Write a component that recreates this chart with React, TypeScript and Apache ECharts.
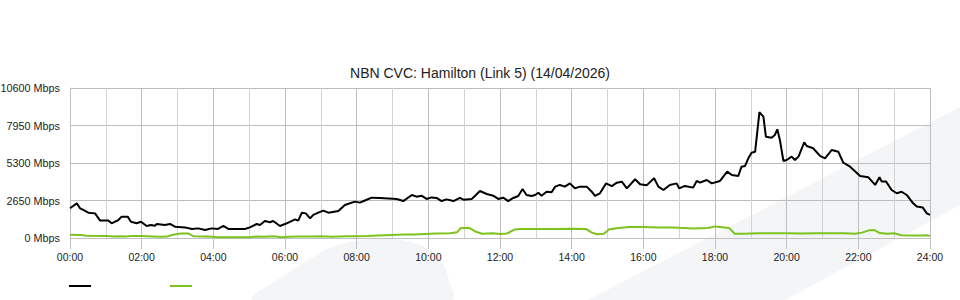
import React, { useEffect, useRef } from "react";
import * as echarts from "echarts";

const titleText = "NBN CVC: Hamilton (Link 5) (14/04/2026)";
const seriesNames = ["Download", "Upload"];
const yMax = 10600;
const yStep = 2650;
const xTickHours = [0, 2, 4, 6, 8, 10, 12, 14, 16, 18, 20, 22, 24];

const dlHours = [
  0.0, 0.19, 0.28, 0.37, 0.51, 0.7, 0.84, 1.07, 1.16, 1.35, 1.44, 1.61, 1.7, 1.86, 1.98, 2.14, 2.26, 2.37,
  2.42, 2.65, 2.79, 2.93, 3.21, 3.4, 3.58, 3.77, 3.95, 4.13, 4.28, 4.42, 4.88, 5.02, 5.21, 5.3, 5.44, 5.58,
  5.67, 5.86, 6.05, 6.28, 6.37, 6.47, 6.58, 6.7, 6.79, 6.93, 7.07, 7.21, 7.49, 7.67, 7.95, 8.09, 8.23, 8.42,
  8.65, 9.12, 9.3, 9.54, 9.67, 9.81, 9.95, 10.09, 10.23, 10.37, 10.51, 10.7, 10.88, 10.98, 11.21, 11.3, 11.44,
  11.63, 11.81, 11.95, 12.09, 12.23, 12.37, 12.51, 12.63, 12.74, 12.88, 12.98, 13.07, 13.16, 13.3, 13.44,
  13.54, 13.67, 13.81, 13.95, 14.09, 14.23, 14.42, 14.56, 14.65, 14.79, 14.96, 15.12, 15.26, 15.4, 15.54,
  15.77, 15.91, 16.09, 16.3, 16.42, 16.56, 16.74, 16.93, 17.0, 17.16, 17.39, 17.49, 17.58, 17.77, 17.91,
  18.14, 18.34, 18.47, 18.65, 18.74, 18.84, 18.93, 19.02, 19.12, 19.24, 19.35, 19.42, 19.58, 19.67, 19.74,
  19.81, 19.91, 20.0, 20.14, 20.23, 20.33, 20.49, 20.56, 20.74, 20.93, 21.07, 21.26, 21.44, 21.58, 21.77,
  22.05, 22.28, 22.47, 22.59, 22.65, 22.77, 22.93, 23.07, 23.21, 23.35, 23.53, 23.63, 23.8, 23.91, 24.0,
];
const dlMbps = [
  2100, 2450, 2100, 1980, 1790, 1740, 1230, 1230, 1040, 1270, 1510, 1510, 1150, 1040, 1150, 850, 920, 870,
  990, 920, 990, 800, 750, 640, 680, 570, 680, 640, 850, 640, 640, 750, 990, 920, 1200, 1110,
  1200, 850, 1040, 1320, 1230, 1790, 1740, 1390, 1630, 1790, 1930, 1790, 1910, 2330, 2570, 2500, 2650, 2850,
  2830, 2760, 2610, 3040, 2920, 2990, 2760, 2870, 2830, 2610, 2730, 2610, 2830, 2710, 2760, 2970, 3320,
  3110, 2990, 2760, 2850, 2610, 2830, 2970, 3460, 3040, 2970, 3040, 3200, 2990, 3270, 3230,
  3630, 3750, 3630, 3860, 3510, 3630, 3630, 3270, 2970, 3160, 3860, 3670, 3910, 3980, 3510,
  4150, 3800, 3720, 4220, 3630, 3390, 3750, 3860, 3510, 3680, 3560, 4030, 3910, 4100, 3860,
  4030, 4690, 4450, 4380, 5040, 5090, 5630, 6030, 6100, 8900, 8570, 7160, 7090, 7280, 7680,
  6930, 5440, 5510, 5750, 5510, 5750, 6760, 6500, 6340, 5800, 5630, 6220, 6100, 5320, 5040,
  4380, 4290, 3750, 4290, 4000, 4000, 3390, 3160, 3270, 3040, 2450, 2220, 2150, 1740, 1630,
];

const ulHours = [
  0.0, 0.3, 0.45, 1.0, 1.2, 1.4, 1.55, 1.75, 2.0, 2.3, 2.55, 2.7, 2.9, 3.1, 3.3, 3.45, 3.8, 4.0, 4.1, 4.5,
  5.0, 5.2, 5.4, 5.7, 5.9, 6.1, 6.4, 6.8, 7.0, 7.3, 7.7, 8.0, 8.3, 8.6, 9.0, 9.3, 9.6, 9.9, 10.2, 10.6,
  10.8, 10.9, 11.15, 11.35, 11.5, 11.8, 12.0, 12.2, 12.4, 12.6, 13.0, 13.5, 14.0, 14.4, 14.55, 14.7, 14.9,
  15.05, 15.3, 15.6, 16.0, 16.4, 16.8, 17.0, 17.4, 17.8, 18.0, 18.2, 18.4, 18.55, 18.8, 19.2, 19.6, 20.0,
  20.4, 20.8, 21.2, 21.6, 21.9, 22.1, 22.3, 22.45, 22.6, 22.8, 23.0, 23.2, 23.5, 23.8, 23.9, 24.0,
];
const ulMbps = [
  230, 220, 160, 150, 100, 130, 100, 150, 140, 110, 80, 100, 250, 320, 320, 120, 110, 90, 60, 60,
  60, 110, 90, 130, 60, 90, 100, 100, 120, 90, 120, 130, 150, 180, 220, 240, 250, 290, 320, 330,
  400, 700, 700, 420, 300, 330, 290, 320, 600, 640, 630, 640, 650, 640, 400, 270, 300,
  620, 700, 780, 780, 740, 750, 720, 680, 710, 820, 760, 700, 300, 300, 340, 330, 330,
  310, 330, 330, 330, 300, 380, 540, 560, 350, 300, 330, 200, 170, 180, 200, 150,
];

const zip = (xs: number[], ys: number[]) => xs.map((x, i) => [x, ys[i]]);

export default function App() {
  const ref = useRef<HTMLDivElement>(null);
  useEffect(() => {
    if (!ref.current) return;
    const chart = echarts.init(ref.current, undefined, { renderer: "svg" });
    const font = "'Liberation Sans', Arial, Helvetica, sans-serif";
    chart.setOption({
      animation: false,
      backgroundColor: "#ffffff",
      textStyle: { fontFamily: font },
      title: {
        text: titleText,
        left: "center",
        top: 61,
        textStyle: { fontSize: 14, fontWeight: "normal", color: "#222", fontFamily: font },
      },
      graphic: [
        {
          type: "polygon",
          z: -10,
          silent: true,
          shape: { points: [[960, 107], [960, 205], [785, 300], [588, 300]] },
          style: { fill: "#f4f5f7" },
        },
        {
          type: "polygon",
          z: -10,
          silent: true,
          shape: {
            smooth: 0.3,
            points: [
              [253, 300], [290, 272], [330, 248], [362, 240], [395, 239], [425, 247], [442, 262], [449, 280], [452, 300],
            ],
          },
          style: { fill: "#f4f5f7" },
        },
      ],
      legend: {
        left: 64,
        top: 280,
        itemWidth: 22,
        itemHeight: 2,
        itemGap: 79,
        icon: "rect",
        formatter: () => "",
        data: seriesNames,
      },
      grid: {
        left: 70,
        right: 30,
        top: 88,
        bottom: 62,
        containLabel: false,
        outerBoundsMode: "none",
      },
      xAxis: {
        type: "value",
        min: 0,
        max: 24,
        interval: 2,
        axisLine: { show: true, lineStyle: { color: "#c0c0c0", width: 1 } },
        axisTick: { show: true, length: 11, lineStyle: { color: "#c0c0c0" } },
        axisLabel: {
          margin: 13,
          fontSize: 10.5,
          color: "#222",
          fontFamily: font,
          formatter: (v: number) => (xTickHours.includes(v) ? `${String(v).padStart(2, "0")}:00` : ""),
        },
        splitLine: { show: true, lineStyle: { color: "#bdbdbd", width: 1 } },
        minorTick: { show: false, splitNumber: 2 },
        minorSplitLine: { show: true, lineStyle: { color: "#d2d2d2", width: 1 } },
      },
      yAxis: {
        type: "value",
        min: 0,
        max: yMax,
        interval: yStep,
        axisLine: { show: true, lineStyle: { color: "#c0c0c0" } },
        axisTick: { show: false },
        axisLabel: {
          margin: 10,
          fontSize: 10.8,
          color: "#222",
          fontFamily: font,
          formatter: (v: number) => `${v} Mbps`,
        },
        splitLine: { show: true, lineStyle: { color: "#bdbdbd", width: 1 } },
      },
      series: [
        {
          name: seriesNames[0],
          type: "line",
          data: zip(dlHours, dlMbps),
          symbol: "none",
          color: "#000000",
          lineStyle: { color: "#000000", width: 2 },
          z: 4,
        },
        {
          name: seriesNames[1],
          type: "line",
          data: zip(ulHours, ulMbps),
          symbol: "none",
          color: "#7dc21e",
          lineStyle: { color: "#7dc21e", width: 2 },
          z: 3,
        },
      ],
    });
    return () => chart.dispose();
  }, []);
  return (
    <div
      ref={ref}
      style={{ position: "fixed", left: 0, top: 0, width: 960, height: 300 }}
    />
  );
}
